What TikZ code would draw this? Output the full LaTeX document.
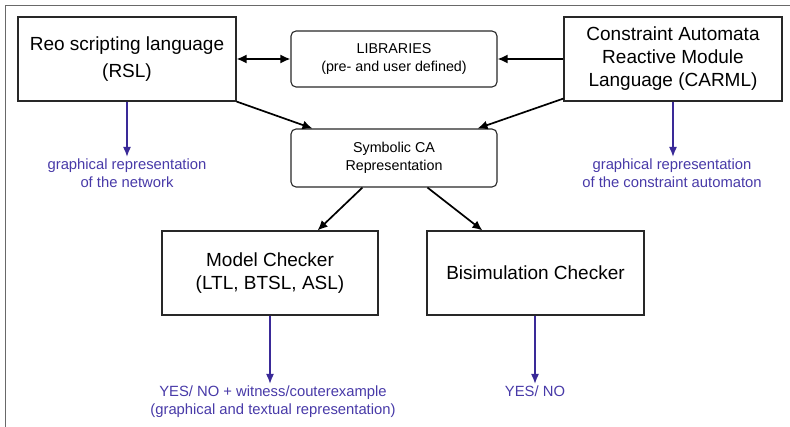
\documentclass[tikz,border=0pt]{standalone}
\usepackage{fontspec}
\setmainfont{Liberation Sans}
\usetikzlibrary{arrows.meta,calc}
\definecolor{framegray}{RGB}{105,105,105}
\definecolor{boxline}{RGB}{40,40,40}
\definecolor{outblue}{RGB}{58,42,152}
\definecolor{outtext}{RGB}{72,58,168}
\tikzset{
  bigbox/.style={draw=boxline, line width=1.1pt, rectangle, align=center,
    minimum width=218pt, minimum height=84pt, inner sep=0pt,
    font=\fontsize{19}{23}\selectfont},
  roundbox/.style={draw=boxline, line width=1.1pt, rectangle, rounded corners=5pt,
    align=center, minimum width=206pt, minimum height=57pt, inner sep=0pt,
    font=\fontsize{14.3}{17.5}\selectfont},
  flow/.style={line width=1.7pt, -{Latex[length=10pt,width=9pt]}},
  result/.style={draw=outblue, line width=1.6pt, -{Latex[length=10pt,width=8pt]}},
  outlabel/.style={text=outtext, align=center, anchor=north, inner sep=2pt,
    font=\fontsize{14.8}{17.5}\selectfont}
}
\begin{document}
\begin{tikzpicture}[x=1pt,y=-1pt]
\useasboundingbox (0,0) rectangle (790,427);
% page frame (top and left edges)
\draw[framegray, line width=1.2pt] (790,5.5) -- (5.5,5.5) -- (5.5,427);

% input languages and libraries
\node[bigbox, font=\fontsize{19}{27}\selectfont] (rsl) at (127,59) {Reo scripting language\\(RSL)};
\node[roundbox, minimum height=56pt] (lib) at (394,59) {LIBRARIES\\(pre- and user defined)};
\node[bigbox] (carml) at (673,59) {Constraint Automata\\Reactive Module\\Language (CARML)};

% intermediate representation
\node[roundbox, minimum height=58pt] (sym) at (394,158) {Symbolic CA\\Representation};

% checkers
\node[bigbox, minimum width=216pt] (mc) at (270,273) {Model Checker\\(LTL, BTSL, ASL)};
\node[bigbox, minimum width=217pt] (bis) at (535.5,273) {Bisimulation Checker};

% outputs
\node[outlabel] (netlbl) at (127,157) {graphical representation\\of the network};
\node[outlabel] (calbl) at (672,157) {graphical representation\\of the constraint automaton};
\node[outlabel] (mclbl) at (273,384) {YES/ NO + witness/couterexample\\(graphical and textual representation)};
\node[outlabel] (bislbl) at (535,384) {YES/ NO};

% black flow arrows
\draw[line width=1.7pt, {Latex[length=10pt,width=9pt]}-{Latex[length=10pt,width=9pt]}] (rsl.east) -- (lib.west);
\draw[flow] (carml.west) -- (lib.east);
\draw[flow] (rsl.south east) -- ($(sym.north west)+(22,0)$);
\draw[flow] ($(carml.south west)+(0,-3)$) -- ($(sym.north east)+(-20,0)$);
\draw[flow] ($(sym.south west)+(72,0)$) -- ($(mc.north east)+(-61,0)$);
\draw[flow] ($(sym.south west)+(137,0)$) -- ($(bis.north west)+(56,0)$);

% blue result arrows
\draw[result] (rsl.south) -- (netlbl.north);
\draw[result] (carml.south) -- (carml.south |- calbl.north);
\draw[result] (mc.south) -- (mc.south |- mclbl.north);
\draw[result] (bis.south -| bislbl.north) -- (bislbl.north);
\end{tikzpicture}
\end{document}
